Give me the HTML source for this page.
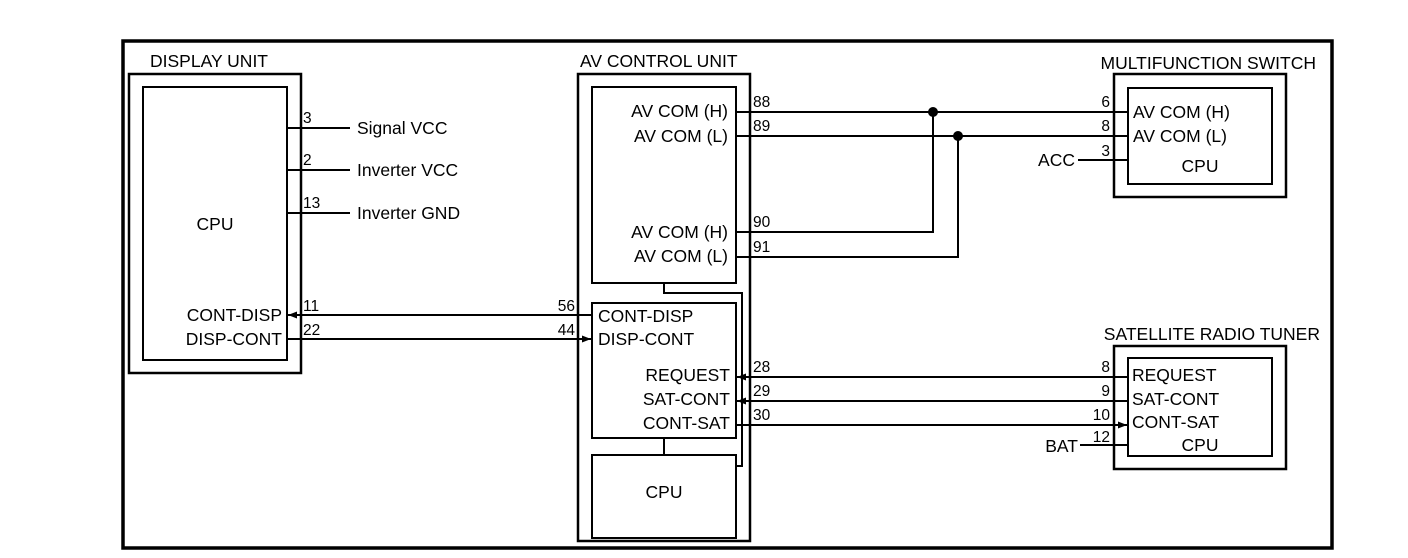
<!DOCTYPE html>
<html><head><meta charset="utf-8"><style>
html,body{margin:0;padding:0;background:#fff}
svg{display:block}
text{font-family:"Liberation Sans",sans-serif;fill:#000}
.t{font-size:17.5px}
.p{font-size:15.5px}
</style></head><body>
<svg width="1408" height="558" viewBox="0 0 1408 558" xmlns="http://www.w3.org/2000/svg">
<defs>
<marker id="a" markerWidth="9" markerHeight="7" refX="9" refY="3.5" orient="auto" markerUnits="userSpaceOnUse">
<path d="M0,0 L9,3.5 L0,7 Z" fill="#000"/></marker>
</defs>
<g fill="none" stroke="#000">
<rect x="123" y="41" width="1209" height="507" stroke-width="3.5"/>
<rect x="129" y="74" width="172" height="299" stroke-width="2.5"/>
<rect x="143" y="87" width="144" height="273" stroke-width="2"/>
<rect x="578" y="74" width="172" height="467" stroke-width="2.5"/>
<rect x="592" y="87" width="144" height="196" stroke-width="2"/>
<rect x="592" y="303" width="144" height="135" stroke-width="2"/>
<rect x="592" y="455" width="144" height="83" stroke-width="2"/>
<path d="M664,283 V293 H742 V466 H736" stroke-width="2"/>
<path d="M664,438 V455" stroke-width="2"/>
<rect x="1114" y="74" width="172" height="123" stroke-width="2.5"/>
<rect x="1128" y="88" width="144" height="96" stroke-width="2"/>
<rect x="1114" y="346" width="172" height="123" stroke-width="2.5"/>
<rect x="1128" y="358" width="144" height="98" stroke-width="2"/>
<g stroke-width="2">
<path d="M287,128 H350 M287,170 H350 M287,213 H350"/>
<path d="M592,315 H288" marker-end="url(#a)"/>
<path d="M287,339 H591" marker-end="url(#a)"/>
<path d="M736,112 H1128 M736,136 H1128 M736,232 H933 V112 M736,257 H958 V136"/>
<path d="M1078,160 H1128 M1080,445 H1128"/>
<path d="M1128,377 H737" marker-end="url(#a)"/>
<path d="M1128,401 H737" marker-end="url(#a)"/>
<path d="M736,425 H1127" marker-end="url(#a)"/>
</g>
</g>
<circle cx="933" cy="112" r="5"/>
<circle cx="958" cy="136" r="5"/>
<g class="t">
<text x="150" y="67">DISPLAY UNIT</text>
<text x="580" y="67">AV CONTROL UNIT</text>
<text x="1316" y="69" text-anchor="end">MULTIFUNCTION SWITCH</text>
<text x="1320" y="340" text-anchor="end">SATELLITE RADIO TUNER</text>
<text x="215" y="230" text-anchor="middle">CPU</text>
<text x="357" y="134">Signal VCC</text>
<text x="357" y="176">Inverter VCC</text>
<text x="357" y="219">Inverter GND</text>
<text x="282" y="321" text-anchor="end">CONT-DISP</text>
<text x="282" y="345" text-anchor="end">DISP-CONT</text>
<text x="728" y="117" text-anchor="end">AV COM (H)</text>
<text x="728" y="142" text-anchor="end">AV COM (L)</text>
<text x="728" y="238" text-anchor="end">AV COM (H)</text>
<text x="728" y="262" text-anchor="end">AV COM (L)</text>
<text x="598" y="322">CONT-DISP</text>
<text x="598" y="345">DISP-CONT</text>
<text x="730" y="381" text-anchor="end">REQUEST</text>
<text x="730" y="405" text-anchor="end">SAT-CONT</text>
<text x="730" y="429" text-anchor="end">CONT-SAT</text>
<text x="664" y="498" text-anchor="middle">CPU</text>
<text x="1133" y="118">AV COM (H)</text>
<text x="1133" y="142">AV COM (L)</text>
<text x="1200" y="172" text-anchor="middle">CPU</text>
<text x="1075" y="166" text-anchor="end">ACC</text>
<text x="1132" y="381">REQUEST</text>
<text x="1132" y="405">SAT-CONT</text>
<text x="1132" y="428">CONT-SAT</text>
<text x="1200" y="451" text-anchor="middle">CPU</text>
<text x="1078" y="452" text-anchor="end">BAT</text>
</g>
<g class="p">
<text x="303" y="123">3</text>
<text x="303" y="165">2</text>
<text x="303" y="208">13</text>
<text x="303" y="311">11</text>
<text x="303" y="335">22</text>
<text x="575" y="311" text-anchor="end">56</text>
<text x="575" y="335" text-anchor="end">44</text>
<text x="753" y="107">88</text>
<text x="753" y="131">89</text>
<text x="753" y="227">90</text>
<text x="753" y="252">91</text>
<text x="753" y="372">28</text>
<text x="753" y="396">29</text>
<text x="753" y="420">30</text>
<text x="1110" y="107" text-anchor="end">6</text>
<text x="1110" y="131" text-anchor="end">8</text>
<text x="1110" y="156" text-anchor="end">3</text>
<text x="1110" y="372" text-anchor="end">8</text>
<text x="1110" y="396" text-anchor="end">9</text>
<text x="1110" y="420" text-anchor="end">10</text>
<text x="1110" y="442" text-anchor="end">12</text>
</g>
</svg>
</body></html>
